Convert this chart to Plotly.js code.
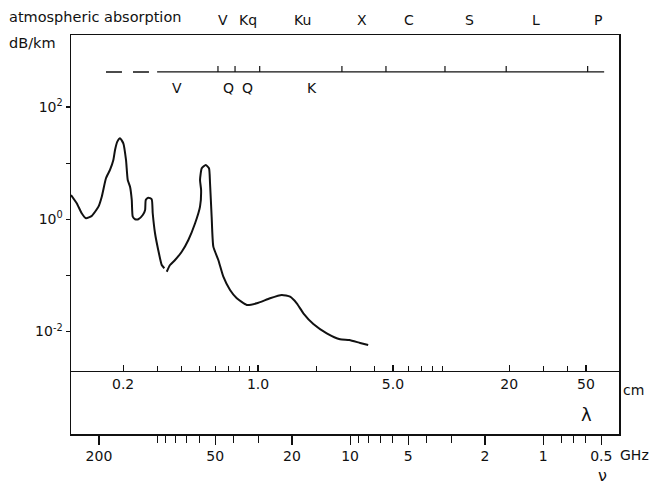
<!DOCTYPE html>
<html><head><meta charset="utf-8">
<script src="https://cdn.plot.ly/plotly-3.0.1.min.js"></script>
<style>html,body{margin:0;padding:0;background:#fff}#chart{width:653px;height:489px}</style>
</head><body><div id="chart"></div>
<script>
// atmospheric absorption curve
const wavelengthCm = [0.1074,0.115,0.122,0.1285,0.1376,0.149,0.155,0.163,0.171,0.178,0.1816,0.1866,0.1928,0.2005,0.207,0.2113,0.2172,0.2217,0.2243,0.2306,0.2398,0.2528,0.26,0.262,0.2703,0.2812,0.2847,0.2926,0.304,0.317,0.327,null,0.3365,0.35,0.3715,0.4024,0.4355,0.472,0.5005,0.507,0.5005,0.511,0.536,0.557,0.564,0.575,0.5866,0.6226,0.661,0.716,0.776,0.874,0.985,1.154,1.327,1.465,1.587,1.717,1.934,2.27,2.66,2.97,3.38,3.72];
const absorptionDbKm = [2.71,1.93,1.28,1.04,1.15,1.68,2.53,5.38,7.57,11.4,17.2,24.2,27.8,22.6,11.4,5.02,3.81,2.21,1.11,1.0,1.0,1.19,1.47,2.21,2.43,2.27,1.28,0.563,0.284,0.153,0.134,null,0.116,0.153,0.188,0.264,0.428,0.849,1.68,3.33,5.02,8.11,9.29,8.11,4.38,1.11,0.325,0.188,0.0948,0.0549,0.0391,0.0297,0.0318,0.0391,0.0447,0.0417,0.0318,0.0211,0.0136,0.00929,0.00726,0.00705,0.00624,0.00574];

// axis ticks
const lambdaTickVals = [0.2,1,5,20,50];
const lambdaTickText = ['0.2','1.0','5.0','20','50'];
const lambdaMinorTicks = [0.3,0.4,0.5,0.6,0.7,0.8,0.9,2,3,4,6,7,8,9,30,40];
const freqTickVals = [200,50,20,10,5,2,1,0.5];
const freqTickText = ['200','50','20','10','5','2','1','0.5'];
const freqMinorTicks = [100,90,80,70,60,40,30,9,8,7,6,4,3,0.8,0.7,0.6];
const absTickVals = [0.01,1,100];
const absTickText = ['10<sup>-2</sup>','10<sup>0</sup>','10<sup>2</sup>'];
const absMinorTicks = [0.1,10];

// band designations
const upperBandNames = ['V','Kq','Ku','X','C','S','L','P'];
const upperBandCm = [0.659,0.887,1.69,3.46,6.06,12.4,27.6,57.8];
const lowerBandNames = ['V','Q','Q','K'];
const lowerBandCm = [0.38,0.70,0.877,1.90];
const bandEdgesCm = [0.62,0.76,1.02,2.72,4.6,9.3,19.3,51];
const bandLineDashedCm = [0.163,0.30];
const bandLineSolidCm = [0.30,62.1];
const bandLineLevel = 423;
const bandTickRise = 1.28;
const lowerBandLevel = 219;

const FONT = 'DejaVu Sans, sans-serif';
const INK = '#111';

const tickX = [], tickY = [];
bandEdgesCm.forEach(v => { tickX.push(v, v, null); tickY.push(bandLineLevel, bandLineLevel*bandTickRise, null); });

const traces = [
  {x: wavelengthCm, y: absorptionDbKm, type:'scatter', mode:'lines', line:{color:INK, width:2, shape:'spline', smoothing:0.5}, connectgaps:false, hoverinfo:'skip'},
  {x: bandLineDashedCm, y: bandLineDashedCm.map(()=>bandLineLevel), type:'scatter', mode:'lines', line:{color:INK, width:1.5, dash:'16px,11px'}, hoverinfo:'skip'},
  {x: bandLineSolidCm, y: bandLineSolidCm.map(()=>bandLineLevel), type:'scatter', mode:'lines', line:{color:INK, width:1.2}, hoverinfo:'skip'},
  {x: tickX, y: tickY, type:'scatter', mode:'lines', line:{color:INK, width:1.2}, hoverinfo:'skip'},
  {x: [1], y: [1], xaxis:'x2', yaxis:'y2', type:'scatter', mode:'none', hoverinfo:'skip'}
];

const annotations = [];
upperBandNames.forEach((n,i) => annotations.push({text:n, xref:'x', yref:'paper', x:Math.log10(upperBandCm[i]), y:1.0376, showarrow:false, font:{family:FONT, size:14, color:INK}, xanchor:'center', yanchor:'middle'}));
lowerBandNames.forEach((n,i) => annotations.push({text:n, xref:'x', yref:'y', x:Math.log10(lowerBandCm[i]), y:Math.log10(lowerBandLevel), showarrow:false, font:{family:FONT, size:14, color:INK}, xanchor:'center', yanchor:'middle'}));
annotations.push(
  {text:'atmospheric absorption', xref:'paper', yref:'paper', x:-0.117, y:1.045, xanchor:'left', yanchor:'middle', showarrow:false, font:{family:FONT, size:14.5, color:INK}},
  {text:'dB/km', xref:'paper', yref:'paper', x:-0.117, y:0.98, xanchor:'left', yanchor:'middle', showarrow:false, font:{family:FONT, size:14.5, color:INK}},
  {text:'cm', xref:'paper', yref:'paper', x:1.004, y:0.11, xanchor:'left', yanchor:'middle', showarrow:false, font:{family:FONT, size:14, color:INK}},
  {text:'λ', xref:'paper', yref:'paper', x:0.9416, y:0.048, xanchor:'center', yanchor:'middle', showarrow:false, font:{family:FONT, size:18, color:INK}},
  {text:'GHz', xref:'paper', yref:'paper', x:0.998, y:-0.053, xanchor:'left', yanchor:'middle', showarrow:false, font:{family:FONT, size:14, color:INK}},
  {text:'ν', xref:'paper', yref:'paper', x:0.969, y:-0.104, xanchor:'center', yanchor:'middle', showarrow:false, font:{family:FONT, size:16, color:INK}}
);

const layout = {
  width:653, height:489,
  margin:{l:71, r:34, t:35, b:55},
  paper_bgcolor:'#fff', plot_bgcolor:'#fff',
  showlegend:false,
  font:{family:FONT, size:14, color:INK},
  xaxis:{type:'log', range:[-0.969,1.870], anchor:'y', domain:[0,1],
    showline:true, mirror:true, linecolor:INK, linewidth:1.5, showgrid:false, zeroline:false,
    tickmode:'array', tickvals:lambdaTickVals, ticktext:lambdaTickText,
    ticks:'inside', ticklen:6, tickwidth:1.2, tickcolor:INK, tickfont:{family:FONT, size:14, color:INK},
    minor:{tickmode:'array', tickvals:lambdaMinorTicks, ticks:'inside', ticklen:5, tickwidth:1, tickcolor:INK, showgrid:false}},
  yaxis:{type:'log', range:[-2.704,3.285], domain:[0.158,1], anchor:'x',
    showline:true, mirror:true, linecolor:INK, linewidth:1.5, showgrid:false, zeroline:false,
    tickmode:'array', tickvals:absTickVals, ticktext:absTickText,
    ticks:'outside', ticklen:4, tickwidth:1.2, tickcolor:INK, tickfont:{family:FONT, size:14, color:INK},
    minor:{tickmode:'array', tickvals:absMinorTicks, ticks:'outside', ticklen:4, tickwidth:1.2, tickcolor:INK, showgrid:false}},
  xaxis2:{type:'log', range:[2.446,-0.393], anchor:'y2', domain:[0,1],
    showline:true, mirror:false, linecolor:INK, linewidth:1.5, showgrid:false, zeroline:false,
    tickmode:'array', tickvals:freqTickVals, ticktext:freqTickText,
    ticks:'outside', ticklen:9, tickwidth:1.2, tickcolor:INK, tickfont:{family:FONT, size:14, color:INK},
    minor:{tickmode:'array', tickvals:freqMinorTicks, ticks:'outside', ticklen:7, tickwidth:1, tickcolor:INK, showgrid:false}},
  yaxis2:{domain:[0,0.158], anchor:'x2', range:[0,1], showline:true, mirror:true, linecolor:INK, linewidth:1.5,
    showgrid:false, zeroline:false, showticklabels:false, ticks:''},
  annotations: annotations
};

Plotly.newPlot('chart', traces, layout, {staticPlot:true, displayModeBar:false});
</script>
</body></html>
